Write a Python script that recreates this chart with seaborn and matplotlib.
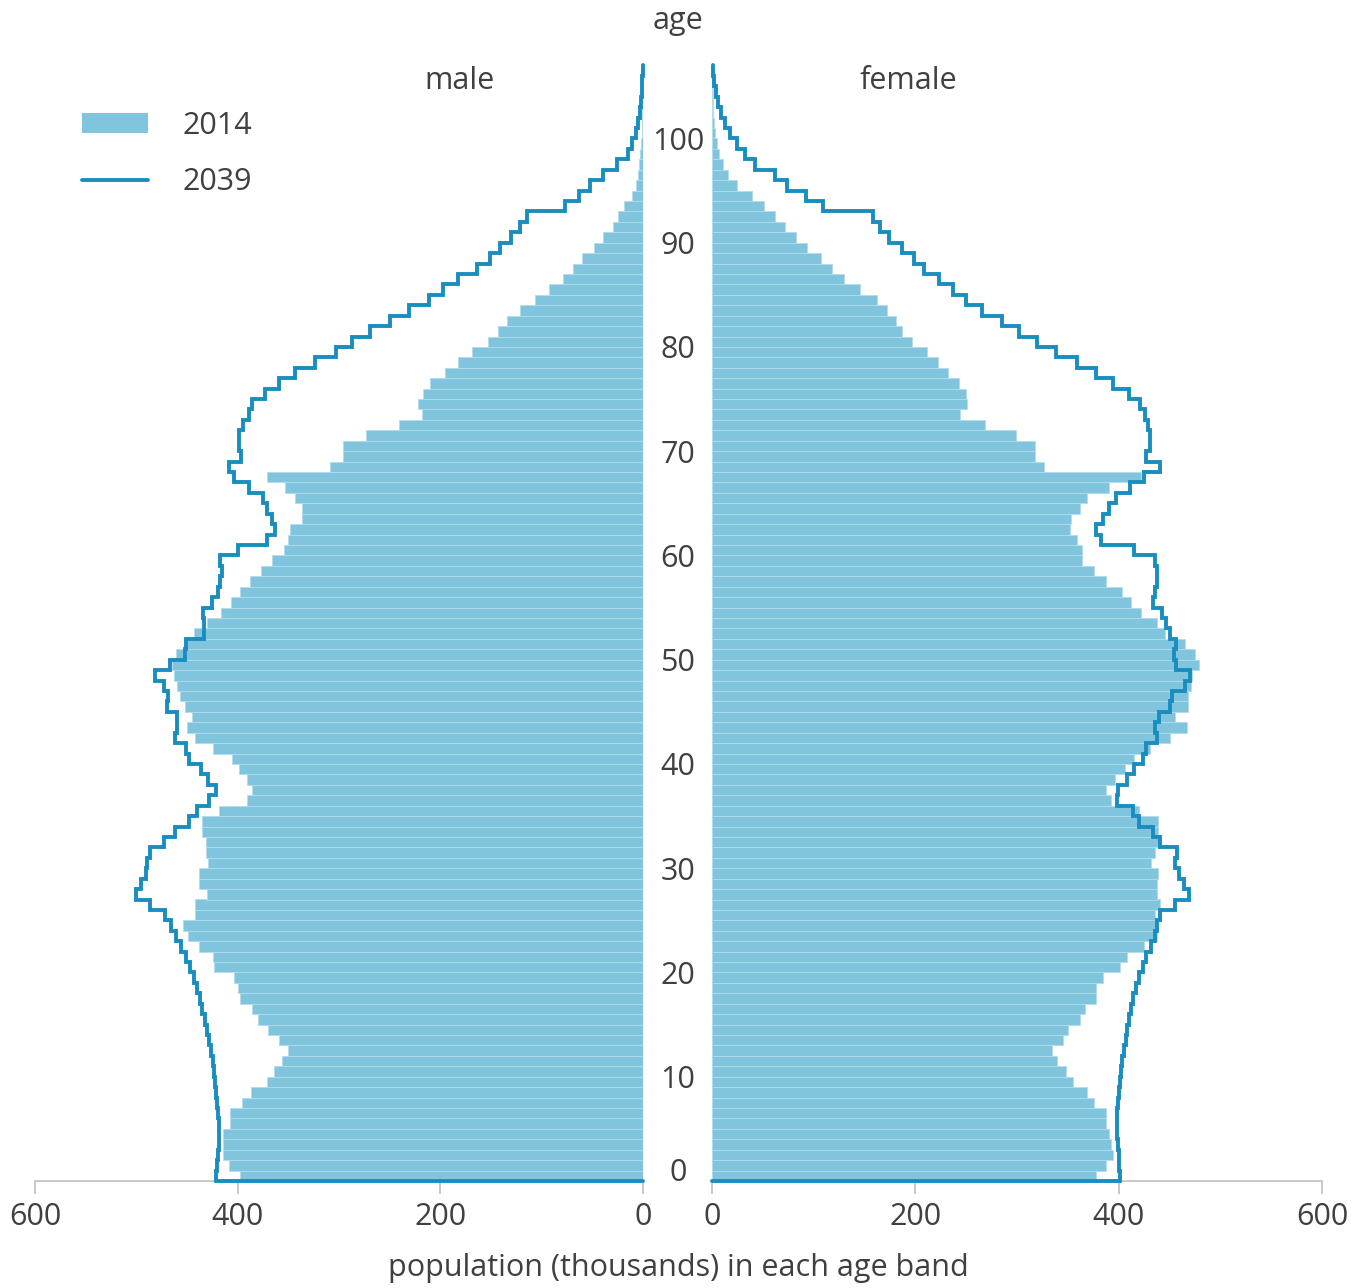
import numpy as np
import pandas as pd
import matplotlib.pyplot as plt
import seaborn as sns
from matplotlib.patches import Patch
from matplotlib.lines import Line2D

# single years of age, 0 .. 106
ages = np.arange(0, 107)

# population in thousands
male_2014 = [398, 409, 414, 414, 414, 408, 408, 396, 387, 371,
             364, 356, 350, 359, 370, 380, 386, 398, 400, 404,
             423, 424, 438, 449, 454, 442, 442, 430, 438, 438,
             429, 431, 431, 435, 435, 418, 391, 386, 391, 399,
             406, 424, 442, 450, 445, 452, 457, 460, 463, 465,
             461, 453, 443, 430, 416, 407, 398, 388, 377, 366,
             354, 350, 348, 337, 337, 343, 353, 371, 309, 296,
             296, 273, 241, 218, 222, 217, 210, 195, 183, 169,
             153, 143, 134, 121, 107, 93, 79, 69, 60, 48,
             39, 30, 25, 19, 11, 7, 5, 3.5, 2.5, 1.8,
             1.2, 0.8, 0.5, 0.3, 0.2, 0.1, 0.05]

male_2039 = [421, 420, 419, 418, 418, 418, 419, 420, 421, 422,
             423, 424, 426, 428, 430, 432, 435, 437, 440, 443,
             447, 451, 456, 461, 466, 472, 487, 500, 495, 490,
             489, 487, 473, 462, 448, 440, 428, 421, 429, 436,
             448, 451, 462, 460, 460, 470, 469, 473, 482, 467,
             452, 451, 433, 433, 434, 425, 419, 417, 415, 417,
             400, 371, 363, 366, 371, 375, 389, 404, 409, 397,
             399, 399, 395, 389, 386, 373, 359, 343, 324, 303,
             287, 269, 250, 231, 211, 197, 183, 164, 151, 141,
             130, 121, 114, 77, 63, 52, 39, 26, 15, 10.5,
             7, 4.5, 3, 1.5, 0.8, 0.5, 0.3]

female_2014 = [378, 388, 394, 392, 390, 388, 388, 376, 369, 355,
               348, 339, 334, 345, 350, 362, 367, 378, 378, 385,
               401, 408, 425, 438, 438, 436, 441, 438, 438, 439,
               432, 436, 439, 439, 439, 420, 392, 388, 396, 406,
               415, 431, 450, 467, 455, 468, 468, 471, 472, 479,
               475, 465, 446, 438, 422, 412, 403, 388, 376, 364,
               364, 359, 352, 353, 362, 369, 390, 422, 327, 318,
               318, 299, 269, 244, 251, 250, 243, 232, 222, 211,
               197, 187, 181, 172, 162, 146, 130, 118, 107, 93,
               83, 72, 62, 51, 39, 25, 16, 11, 7, 5,
               3, 2, 1.3, 0.8, 0.5, 0.3, 0.1]

female_2039 = [401, 400, 400, 399, 398, 398, 398, 399, 400, 401,
               402, 403, 405, 407, 408, 410, 412, 414, 417, 420,
               424, 427, 432, 436, 438, 441, 455, 469, 464, 459,
               455, 457, 441, 434, 420, 414, 398, 399, 408, 415,
               424, 427, 438, 436, 440, 450, 452, 465, 470, 456,
               454, 456, 450, 447, 443, 434, 436, 438, 438, 436,
               415, 383, 378, 385, 390, 397, 411, 425, 441, 427,
               431, 431, 429, 426, 421, 410, 394, 378, 359, 338,
               320, 302, 285, 266, 250, 237, 223, 209, 199, 187,
               174, 165, 158, 109, 92, 74, 62, 42, 32, 25,
               18, 13, 9, 6, 4, 2, 1]

pop_ticks = [0, 200, 400, 600]
age_ticks = list(range(0, 101, 10))

BAR = '#80c5dd'
LINE = '#1a8dbf'
TEXT = '#404040'
AXIS = '#c4c4c4'
FS = 22

sns.set_style('white')
plt.rcParams['font.family'] = ['Open Sans', 'DejaVu Sans']

W, H = 1364, 1288
fig = plt.figure(figsize=(W / 100, H / 100), dpi=100)
ax_m = fig.add_axes([35 / W, 107 / H, 608 / W, 1126 / H])
ax_f = fig.add_axes([712 / W, 107 / H, 610 / W, 1126 / H])


def draw_side(ax, v2014, v2039):
    df = pd.DataFrame({'age': ages, 'pop': v2014})
    sns.histplot(data=df, y='age', weights='pop', binwidth=1,
                 binrange=(0, len(ages)), color=BAR, alpha=1,
                 edgecolor='#b2dcea', linewidth=0.6, ax=ax)
    # 2039 as a step outline starting from the baseline
    ys = np.column_stack([ages, ages + 1]).ravel()
    xs = np.repeat(v2039, 2)
    ax.plot(np.r_[0, xs], np.r_[0, ys], color=LINE, lw=2.8,
            clip_on=False, zorder=5, solid_joinstyle='miter')

    ax.set_ylim(0, 108)
    ax.set_xticks(pop_ticks)
    ax.set_xlabel('')
    ax.set_ylabel('')
    for s in ['top', 'left', 'right']:
        ax.spines[s].set_visible(False)
    ax.spines['bottom'].set_color(AXIS)
    ax.spines['bottom'].set_linewidth(1.3)
    ax.tick_params(axis='x', bottom=True, length=9, width=1.3, color=AXIS,
                   labelsize=FS, labelcolor=TEXT, pad=6)


draw_side(ax_m, male_2014, male_2039)
draw_side(ax_f, female_2014, female_2039)

ax_m.set_xlim(600, 0)
ax_f.set_xlim(0, 600)
ax_m.set_yticks([])

ax_f.set_yticks(age_ticks)
ax_f.tick_params(axis='y', left=True, length=0, labelsize=FS,
                 labelcolor=TEXT, pad=24.5)
for lab in ax_f.get_yticklabels():
    lab.set_ha('center')
ax_f.get_yticklabels()[0].set_va('baseline')

fig.text(678 / W, 1 - 21 / H, 'age', ha='center', va='center',
         fontsize=FS, color=TEXT)
fig.text(460 / W, 1 - 81 / H, 'male', ha='center', va='center',
         fontsize=FS, color=TEXT)
fig.text(908 / W, 1 - 81 / H, 'female', ha='center', va='center',
         fontsize=FS, color=TEXT)
fig.text(678 / W, 1 - 1268 / H, 'population (thousands) in each age band',
         ha='center', va='center', fontsize=FS, color=TEXT)

handles = [Patch(facecolor=BAR, edgecolor='none', label='2014'),
           Line2D([], [], color=LINE, lw=2.8, label='2039')]
fig.legend(handles=handles, loc='upper left',
           bbox_to_anchor=(82 / W, 1 - 111 / H), frameon=False,
           borderpad=0, borderaxespad=0, handlelength=2.15,
           handleheight=0.65, handletextpad=1.15, labelspacing=0.85,
           fontsize=FS, labelcolor=TEXT)

fig.savefig('out.png', dpi=100)
